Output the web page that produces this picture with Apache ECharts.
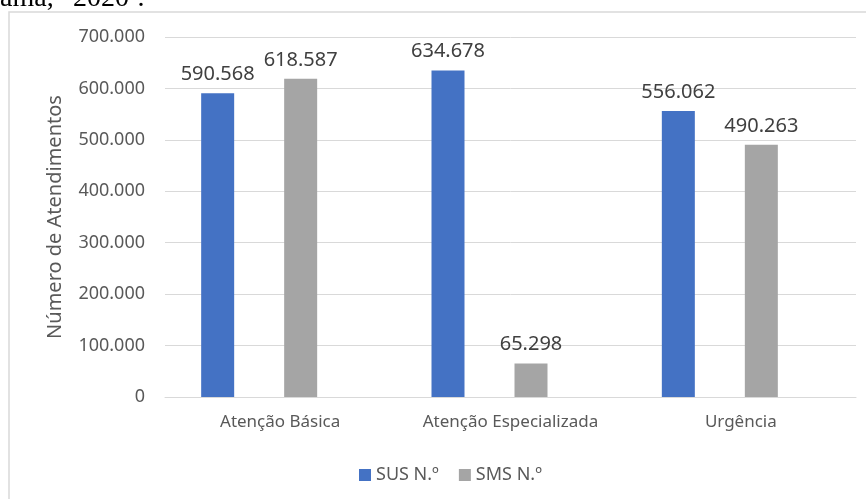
<!DOCTYPE html>
<html>
<head>
<meta charset="utf-8">
<script src="https://cdn.jsdelivr.net/npm/echarts@6/dist/echarts.min.js"></script>
<style>
html,body{margin:0;padding:0;background:#fff;}
#main{width:866px;height:499px;}
</style>
</head>
<body>
<div id="main"></div>
<script>
const categories = ['Atenção Básica', 'Atenção Especializada', 'Urgência'];
const susValues = [590568, 634678, 556062];
const smsValues = [618587, 65298, 490263];
const seriesNames = ['SUS N.º', 'SMS N.º'];
const yTicks = [0, 100000, 200000, 300000, 400000, 500000, 600000, 700000];
const yTitle = 'Número de Atendimentos';

function fmt(v) {
  return String(Math.round(v)).replace(/\B(?=(\d{3})+(?!\d))/g, '.');
}

const FONT = 'Noto Sans';
const chart = echarts.init(document.getElementById('main'), null, {renderer: 'canvas'});
const yMin = yTicks[0], yMax = yTicks[yTicks.length - 1], yInt = yTicks[1] - yTicks[0];

const option = {
  backgroundColor: '#ffffff',
  animation: false,
  textStyle: {fontFamily: FONT},
  color: ['#4472C4', '#A5A5A5'],
  legend: {
    data: seriesNames,
    left: 354,
    top: 461,
    itemWidth: 12,
    itemHeight: 12,
    itemGap: 20,
    icon: 'rect',
    textStyle: {fontFamily: FONT, fontSize: 18, color: '#595959'}
  },
  grid: [
    {left: 165, right: 10, top: 37, bottom: 102, containLabel: false},
    {left: 144, right: 31, top: 37, bottom: 102, containLabel: false}
  ],
  xAxis: [
    {
      type: 'category', gridIndex: 0, data: categories,
      axisLine: {show: true, lineStyle: {color: '#D9D9D9', width: 1}},
      axisTick: {show: false},
      axisLabel: {fontFamily: FONT, fontSize: 17, color: '#595959', margin: 17}
    },
    {
      type: 'category', gridIndex: 1, data: categories, show: false
    }
  ],
  yAxis: [
    {
      type: 'value', gridIndex: 0, min: yMin, max: yMax, interval: yInt,
      name: yTitle, nameLocation: 'middle', nameGap: 100, nameRotate: 90,
      nameTextStyle: {fontFamily: FONT, fontSize: 20, color: '#595959'},
      axisLine: {show: false}, axisTick: {show: false},
      splitLine: {lineStyle: {color: '#D9D9D9', width: 1}},
      axisLabel: {fontFamily: FONT, fontSize: 18, color: '#595959', margin: 20, formatter: fmt}
    },
    {
      type: 'value', gridIndex: 1, min: yMin, max: yMax, interval: yInt, show: false,
      splitLine: {show: false}
    }
  ],
  series: [
    {
      name: seriesNames[0], type: 'bar', xAxisIndex: 1, yAxisIndex: 1,
      data: susValues, barWidth: 33, barGap: '151.5%',
      label: {show: true, position: 'top', distance: 9, fontFamily: FONT, fontSize: 20, color: '#404040', formatter: p => fmt(p.value)}
    },
    {
      name: seriesNames[1], type: 'bar', xAxisIndex: 1, yAxisIndex: 1,
      data: smsValues, barWidth: 33, barGap: '151.5%',
      label: {show: true, position: 'top', distance: 9, fontFamily: FONT, fontSize: 20, color: '#404040', formatter: p => fmt(p.value)}
    }
  ],
  graphic: [
    {
      type: 'rect', z: 100, silent: true,
      shape: {x: 9, y: 12, width: 1000, height: 700},
      style: {fill: null, stroke: '#D9D9D9', lineWidth: 1.5}
    },
    {
      type: 'text', z: 100, silent: true, left: 0, top: -15,
      style: {text: 'ama,', font: '28px "Liberation Serif"', fill: '#000'}
    },
    {
      type: 'text', z: 100, silent: true, left: 73, top: -15,
      style: {text: '2020¹.', font: '28px "Liberation Serif"', fill: '#000'}
    }
  ]
};
chart.setOption(option);
</script>
</body>
</html>
